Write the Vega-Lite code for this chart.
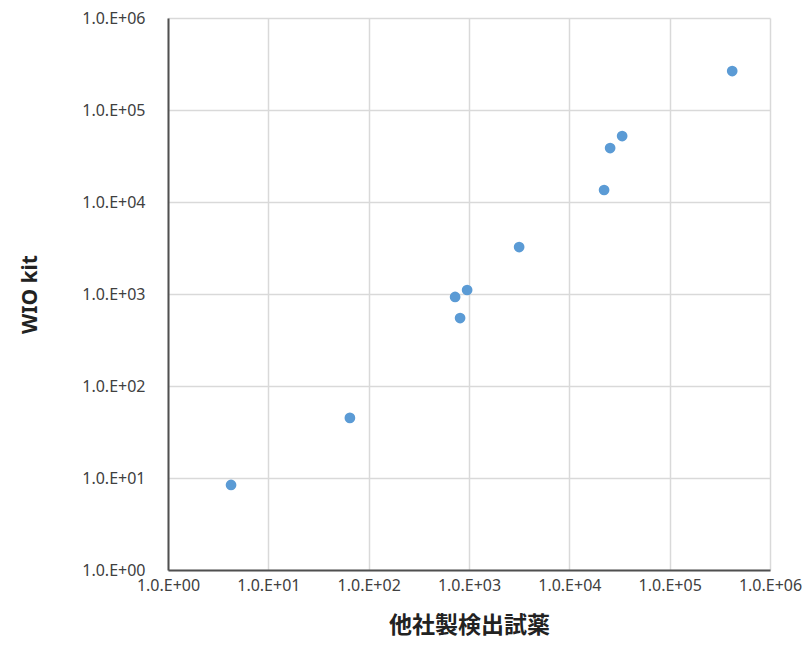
{
  "$schema": "https://vega.github.io/schema/vega-lite/v6.json",
  "width": 602,
  "height": 552,
  "autosize": "none",
  "padding": {"left": 168, "top": 18, "right": 38, "bottom": 96},
  "background": "white",
  "config": {"view": {"stroke": null}},
  "data": {
    "values": [
      {"other": 4.25, "wio": 8.4},
      {"other": 65, "wio": 45},
      {"other": 727, "wio": 928},
      {"other": 958, "wio": 1105},
      {"other": 815, "wio": 548},
      {"other": 3160, "wio": 3240},
      {"other": 22200, "wio": 13500},
      {"other": 25500, "wio": 38600},
      {"other": 33600, "wio": 52100},
      {"other": 420000, "wio": 265000}
    ]
  },
  "mark": {"type": "point", "filled": true, "size": 115, "color": "#5b9bd5", "opacity": 1},
  "encoding": {
    "x": {
      "field": "other", "type": "quantitative",
      "scale": {"type": "log", "domain": [1, 1000000], "nice": false},
      "axis": {
        "title": "他社製検出試薬",
        "values": [1, 10, 100, 1000, 10000, 100000, 1000000],
        "labelExpr": "'1.0.E+0' + round(log(datum.value)/LN10)",
        "labelFont": "Noto Sans", "labelFontSize": 16, "labelColor": "#404040",
        "labelPadding": 7, "ticks": false, "labelFlush": false, "labelOverlap": false, "labelBound": false,
        "domainColor": "#505050", "domainWidth": 2,
        "grid": true, "gridColor": "#d9d9d9", "gridWidth": 1.5,
        "titleFont": "Noto Sans CJK JP", "titleFontSize": 23, "titleFontWeight": "bold",
        "titleColor": "#222222", "titleX": 301, "titleY": 55, "titleAlign": "center", "titleBaseline": "middle"
      }
    },
    "y": {
      "field": "wio", "type": "quantitative",
      "scale": {"type": "log", "domain": [1, 1000000], "nice": false},
      "axis": {
        "title": "WIO kit",
        "values": [1, 10, 100, 1000, 10000, 100000, 1000000],
        "labelExpr": "'1.0.E+0' + round(log(datum.value)/LN10)",
        "labelFont": "Noto Sans", "labelFontSize": 16, "labelColor": "#404040",
        "labelPadding": 23, "ticks": false, "labelOverlap": false, "labelFlush": false, "labelBound": false,
        "domainColor": "#505050", "domainWidth": 2,
        "grid": true, "gridColor": "#d9d9d9", "gridWidth": 1.5,
        "titleFont": "Noto Sans", "titleFontSize": 21, "titleFontWeight": "bold",
        "titleColor": "#222222", "titleX": -138, "titleY": 276, "titleAlign": "center", "titleBaseline": "middle", "titleAngle": -90
      }
    }
  }
}
